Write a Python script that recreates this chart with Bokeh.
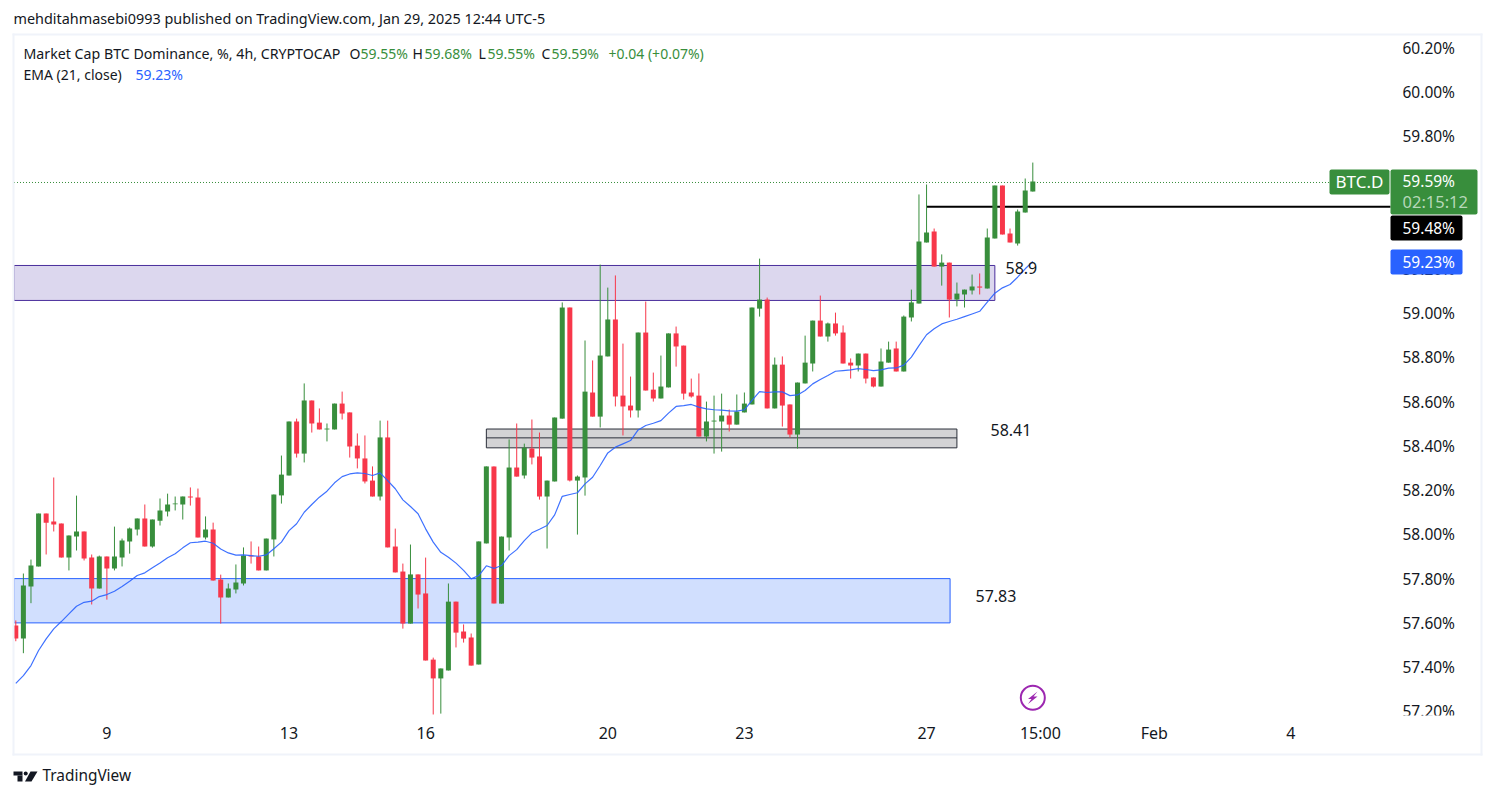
from bokeh.plotting import figure
from bokeh.embed import file_html
from bokeh.resources import INLINE
from bokeh.models import (BoxAnnotation, Label, PolyAnnotation, FixedTicker,
                          PrintfTickFormatter, ColumnDataSource, Range1d)

opens = [57.588,57.529,57.764,57.855,58.094,58.058,58.049,57.895,57.990,58.013,
 57.895,57.755,57.900,57.846,57.895,57.968,58.022,58.072,57.945,58.062,
 58.103,58.136,58.135,58.171,58.166,57.986,58.022,57.796,57.715,57.751,
 57.778,57.904,57.900,57.837,57.977,58.176,58.266,58.510,58.365,58.605,
 58.505,58.474,58.474,58.591,58.551,58.401,58.343,58.243,58.171,58.438,
 57.945,57.832,57.597,57.819,57.733,57.434,57.349,57.385,57.696,57.561,
 57.534,57.412,57.959,58.307,57.687,57.986,58.302,58.266,58.388,58.352,
 58.171,58.239,58.523,59.025,58.243,58.257,58.641,58.532,58.804,58.971,
 58.627,58.582,58.560,58.912,58.654,58.614,58.664,58.908,58.853,58.641,
 58.627,58.442,58.510,58.510,58.537,58.496,58.551,58.587,59.020,59.061,
 58.569,58.767,58.587,58.451,58.682,58.772,58.966,58.894,58.953,58.912,
 58.776,58.763,58.817,58.709,58.668,58.776,58.840,58.736,58.980,59.043,
 59.319,59.368,59.210,59.228,59.061,59.084,59.102,59.120,59.111,59.337,
 59.576,59.359,59.314,59.454,59.549]
highs = [57.611,57.823,57.886,58.094,58.094,58.257,58.049,57.995,58.175,58.013,
 57.909,57.904,57.900,58.035,57.981,58.031,58.072,58.135,58.067,58.162,
 58.184,58.171,58.171,58.212,58.207,58.081,58.053,57.818,57.778,57.864,
 57.941,57.968,57.945,57.981,58.180,58.356,58.510,58.523,58.682,58.605,
 58.569,58.501,58.591,58.645,58.551,58.456,58.447,58.307,58.514,58.514,
 58.026,57.868,57.954,57.819,57.895,57.443,57.394,57.778,57.696,57.593,
 57.552,57.968,58.307,58.307,57.990,58.429,58.501,58.410,58.519,58.460,
 58.243,58.528,59.048,59.025,58.266,58.876,58.786,59.219,59.115,59.170,
 58.862,58.713,58.912,59.052,58.731,58.808,58.908,58.939,58.853,58.704,
 58.727,58.600,58.627,58.636,58.564,58.632,58.641,59.025,59.246,59.070,
 58.799,58.804,58.587,58.686,58.898,58.966,59.079,58.957,59.002,58.944,
 58.795,58.817,58.817,58.709,58.840,58.871,58.871,58.989,59.106,59.536,
 59.581,59.382,59.265,59.228,59.138,59.106,59.174,59.179,59.382,59.576,
 59.576,59.382,59.468,59.608,59.680]
lows = [57.517,57.463,57.689,57.855,57.909,58.013,57.895,57.837,57.927,57.882,
 57.683,57.755,57.705,57.837,57.855,57.913,57.995,57.945,57.940,58.040,
 58.081,58.108,58.067,58.130,57.986,57.977,57.791,57.597,57.715,57.733,
 57.769,57.868,57.837,57.837,57.900,58.139,58.266,58.347,58.325,58.460,
 58.474,58.420,58.474,58.519,58.347,58.298,58.230,58.171,58.153,57.941,
 57.828,57.574,57.597,57.665,57.430,57.186,57.190,57.385,57.489,57.511,
 57.407,57.412,57.959,57.688,57.687,57.927,58.261,58.252,58.316,58.157,
 57.936,58.239,58.523,58.239,57.999,58.175,58.532,58.483,58.804,58.578,
 58.447,58.528,58.528,58.650,58.600,58.614,58.664,58.758,58.609,58.618,
 58.442,58.420,58.365,58.374,58.465,58.496,58.551,58.587,58.984,58.569,
 58.569,58.487,58.438,58.388,58.682,58.736,58.894,58.871,58.898,58.772,
 58.704,58.736,58.682,58.664,58.668,58.776,58.736,58.736,58.962,59.043,
 59.319,59.210,59.124,58.980,59.030,59.025,59.084,59.084,59.111,59.337,
 59.355,59.319,59.305,59.454,59.549]
closes = [57.529,57.769,57.859,58.094,58.053,58.044,57.895,57.995,58.013,57.891,
 57.755,57.900,57.846,57.900,57.972,58.026,58.072,57.945,58.067,58.108,
 58.135,58.139,58.171,58.166,57.986,58.022,57.791,57.715,57.755,57.782,
 57.904,57.900,57.837,57.981,58.180,58.270,58.510,58.365,58.605,58.501,
 58.474,58.478,58.591,58.546,58.397,58.343,58.239,58.171,58.438,57.941,
 57.828,57.597,57.819,57.728,57.430,57.349,57.394,57.696,57.556,57.529,
 57.407,57.968,58.307,57.688,57.990,58.302,58.261,58.392,58.347,58.171,
 58.243,58.528,59.025,58.243,58.261,58.645,58.532,58.808,58.971,58.623,
 58.578,58.560,58.912,58.650,58.614,58.668,58.908,58.849,58.636,58.623,
 58.442,58.510,58.514,58.537,58.496,58.555,58.591,59.025,59.061,58.569,
 58.767,58.582,58.451,58.686,58.776,58.966,58.894,58.953,58.908,58.772,
 58.763,58.817,58.704,58.668,58.781,58.835,58.736,58.984,59.048,59.323,
 59.364,59.210,59.228,59.061,59.088,59.106,59.120,59.115,59.341,59.576,
 59.355,59.319,59.459,59.554,59.594]
ema = [57.327,57.362,57.407,57.475,57.528,57.573,57.606,57.641,57.675,57.693,
 57.698,57.719,57.728,57.743,57.764,57.788,57.814,57.826,57.849,57.871,
 57.894,57.912,57.939,57.962,57.965,57.969,57.960,57.934,57.916,57.906,
 57.907,57.904,57.901,57.907,57.935,57.965,58.017,58.048,58.100,58.135,
 58.168,58.195,58.233,58.261,58.273,58.278,58.275,58.266,58.278,58.243,
 58.206,58.156,58.126,58.093,58.025,57.965,57.919,57.897,57.870,57.837,
 57.799,57.814,57.858,57.846,57.859,57.904,57.931,57.972,58.007,58.023,
 58.040,58.088,58.172,58.180,58.188,58.228,58.258,58.311,58.368,58.394,
 58.409,58.424,58.472,58.492,58.502,58.514,58.548,58.578,58.582,58.587,
 58.575,58.567,58.563,58.561,58.558,58.557,58.563,58.605,58.645,58.641,
 58.644,58.644,58.627,58.630,58.650,58.680,58.700,58.718,58.737,58.740,
 58.743,58.749,58.745,58.740,58.743,58.751,58.752,58.765,58.801,58.853,
 58.902,58.929,58.951,58.962,58.972,58.984,58.996,59.008,59.049,59.090,
 59.114,59.129,59.162,59.200,59.233]

price_ticks = [57.2,57.4,57.6,57.8,58.0,58.2,58.4,58.6,58.8,59.0,59.2,59.4,59.6,59.8,60.0,60.2]
time_ticks = {12:"9",36:"13",54:"16",78:"20",96:"23",120:"27",135:"15:00",150:"Feb",168:"4"}
zones = [(57.60,57.80),(59.057,59.215),(58.391,58.476)]
zone_labels = ["57.83","58.9","58.41"]
last_price, line_price, ema_price = 59.59, 59.48, 59.23

GREEN, RED, BLUE = "#388E3C", "#F7374A", "#2962FF"
INK = "#131722"
FONT = "Noto Sans"

W, H = 1490, 794
FL, FR, FB = 13.5, 1390, 715      # plot area edges in page pixels
BAR, X0 = 7.5896, 15.3
PX_PER_UNIT = 221.3

def ix(px): return (px-X0)/BAR
def val(py): return 60.2-(py-47)/PX_PER_UNIT

p = figure(width=W, height=H, output_backend="svg", toolbar_location=None,
           y_axis_location="right",
           x_range=Range1d(ix(0), ix(W)), y_range=Range1d(val(H), val(0)),
           min_border_left=0, min_border_right=0, min_border_top=0, min_border_bottom=0)
p.outline_line_color = None
p.background_fill_color = "white"
p.grid.visible = False

def box(l, t, r, b, fill, radius=0, level="annotation"):
    p.add_layout(BoxAnnotation(left=l, right=r, top=t, bottom=b,
                               left_units="canvas", right_units="canvas",
                               top_units="canvas", bottom_units="canvas",
                               fill_color=fill, fill_alpha=1, line_color=None,
                               border_radius=radius, level=level, editable=False))

def txt(x, y, s, color=INK, size=14, font=FONT):
    p.add_layout(Label(x=x, y=H-y+1, x_units="screen", y_units="screen", text=s,
                       text_color=color, text_font_size=f"{size}px", text_font=font,
                       text_align="left", text_baseline="middle", level="overlay"))

# zones
for (lo, hi), f, c, (i0, i1) in zip(zones,
        ["#D1DFFE", "#DCD7EE", "#D3D3D5"], ["#2962FF", "#4A2E9C", "#2A2E39"],
        [(ix(FL), 123.1), (ix(FL), 129), (62, 124)]):
    p.quad(left=[i0], right=[i1], bottom=[lo], top=[hi], fill_color=f, line_color=c, line_width=1)
p.segment(x0=[62], x1=[124], y0=[58.436], y1=[58.436], line_color="#2A2E39", line_width=1)

# last price
p.segment(x0=[ix(FL)], x1=[ix(FR)], y0=[last_price], y1=[last_price], line_color=GREEN,
          line_dash="1 2", line_width=1)
p.segment(x0=[120], x1=[ix(FR)], y0=[line_price], y1=[line_price], line_color="black", line_width=2)

# candles
idx = list(range(len(opens)))
colors = [GREEN if c >= o else RED for o, c in zip(opens, closes)]
src = ColumnDataSource(dict(x=idx, o=opens, h=highs, l=lows, c=closes, col=colors))
p.segment(x0="x", x1="x", y0="l", y1="h", line_color="col", line_width=1, source=src)
p.vbar(x="x", width=0.66, bottom="o", top="c", fill_color="col", line_color=None, source=src)
# EMA
p.line(idx, ema, line_color=BLUE, line_width=1.2, line_alpha=0.9)

# icon
p.scatter(x=[134], y=[val(697.3)], marker="circle", size=24, fill_color="white",
          line_color="#9C27B0", line_width=2)
p.add_layout(PolyAnnotation(
    xs=[1037, 1027.5, 1031, 1027.5, 1037, 1033],
    ys=[691, 698.5, 698.5, 703.5, 696, 696],
    xs_units="canvas", ys_units="canvas", fill_color="#9C27B0", fill_alpha=1,
    line_color=None, editable=False))

# axes
ya = p.yaxis[0]
ya.ticker = FixedTicker(ticks=price_ticks)
ya.formatter = PrintfTickFormatter(format="%.2f%%")
ya.fixed_location = ix(FR)
ya.axis_line_color = None
ya.major_tick_line_color = None
ya.minor_tick_line_color = None
ya.major_tick_out = 0
ya.major_tick_in = 0
ya.major_label_standoff = 12
ya.major_label_text_font = FONT
ya.major_label_text_font_size = "15.5px"
ya.major_label_text_color = INK

xa = p.xaxis[0]
xa.ticker = FixedTicker(ticks=list(time_ticks))
xa.major_label_overrides = time_ticks
xa.fixed_location = val(FB)
xa.axis_line_color = None
xa.major_tick_line_color = None
xa.minor_tick_line_color = None
xa.major_tick_out = 0
xa.major_tick_in = 0
xa.major_label_standoff = 6
xa.major_label_text_font = FONT
xa.major_label_text_font_size = "16px"
xa.major_label_text_color = INK
xa.level = "overlay"

# mask clipped bottom of lowest price label
box(FR, FB, 1480, 753, "white")

# outer frame
box(12, 33, 1482, 35, "#F0F3FA")
box(12, 33, 14, 755, "#F0F3FA")
box(1480, 33, 1482, 755, "#F0F3FA")
box(12, 753, 1482, 755, "#F0F3FA")

# price badges
box(1329, 169, 1389, 194, GREEN, radius=2)
box(1390, 169, 1477, 214, GREEN, radius=2)
box(1390, 215, 1462, 240, "black", radius=2)
box(1390, 249, 1462, 274, BLUE, radius=2)
txt(1335, 181.5, "BTC.D", "white", 17)
txt(1402, 181.5, f"{last_price:.2f}%", "white", 15.5)
txt(1402, 202, "02:15:12", "#B7D8B9", 16.5)
txt(1402, 228, f"{line_price:.2f}%", "white", 15.5)
txt(1402, 262, f"{ema_price:.2f}%", "white", 15.5)

# zone labels
txt(975, 596, zone_labels[0], INK, 16)
txt(1005, 268, zone_labels[1], INK, 16)
txt(990, 430, zone_labels[2], INK, 16)

# header and legend
txt(13, 19, "mehditahmasebi0993 published on TradingView.com, Jan 29, 2025 12:44 UTC-5", INK, 14.4)
txt(23, 54, "Market Cap BTC Dominance, %, 4h, CRYPTOCAP", INK, 14.2)
for x, s, c in [(349, "O", INK), (360, "59.55%", GREEN), (412, "H", INK), (424, "59.68%", GREEN),
                (478, "L", INK), (487, "59.55%", GREEN), (541, "C", INK), (551, "59.59%", GREEN),
                (608, "+0.04 (+0.07%)", GREEN)]:
    txt(x, 54, s, c, 14)
txt(23, 75, "EMA (21, close)", INK, 14)
txt(135, 75, f"{ema_price:.2f}%", BLUE, 14)

# TradingView logo
box(13, 771, 22, 775, INK)
box(17, 775, 22, 781, INK)
p.add_layout(PolyAnnotation(xs=[30, 37, 31, 24.5], ys=[771, 771, 781, 781],
                            xs_units="canvas", ys_units="canvas", fill_color=INK, fill_alpha=1,
                            line_color=None, editable=False))
box(23.2, 771, 27.2, 775, INK, radius=2)
txt(42, 776, "TradingView", INK, 15.4)

open("out.html", "w").write(file_html(p, INLINE))
